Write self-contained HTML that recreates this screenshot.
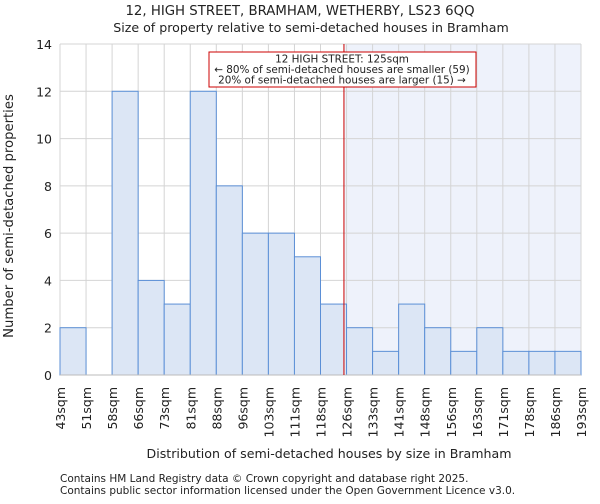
<!DOCTYPE html>
<html><head><meta charset="utf-8"><style>
body{margin:0;background:#fff;font-family:"DejaVu Sans","Liberation Sans",sans-serif;}
svg text{font-family:"DejaVu Sans","Liberation Sans",sans-serif;fill:#222;}
</style></head><body>
<svg id="c" width="600" height="500">
<text x="300" y="15" font-size="13.3" text-anchor="middle">12, HIGH STREET, BRAMHAM, WETHERBY, LS23 6QQ</text>
<text x="311" y="32" font-size="12.6" text-anchor="middle">Size of property relative to semi-detached houses in Bramham</text>
<g id="plot"></g>
<text x="329" y="458" font-size="12.6" text-anchor="middle">Distribution of semi-detached houses by size in Bramham</text>
<text transform="translate(13,216) rotate(-90)" font-size="13.2" text-anchor="middle">Number of semi-detached properties</text>
<text x="60" y="482" font-size="10.5" fill="#444">Contains HM Land Registry data © Crown copyright and database right 2025.</text>
<text x="60" y="494" font-size="10.5" fill="#444">Contains public sector information licensed under the Open Government Licence v3.0.</text>
</svg>
<script>
const binLabels=["43sqm","51sqm","58sqm","66sqm","73sqm","81sqm","88sqm","96sqm","103sqm","111sqm","118sqm","126sqm","133sqm","141sqm","148sqm","156sqm","163sqm","171sqm","178sqm","186sqm","193sqm"];
const counts=[2,0,12,4,3,12,8,6,6,5,3,2,1,3,2,1,2,1,1,1];
const yTicks=[0,2,4,6,8,10,12,14];
const markerIndex=10.9;
const NS="http://www.w3.org/2000/svg";
const L=60,R=581,T=44,B=375,yMax=14;
const bw=(R-L)/counts.length;
const xs=i=>L+i*bw;
const ys=v=>B-(v/yMax)*(B-T);
const g=document.getElementById('plot');
function mk(t,a){const e=document.createElementNS(NS,t);for(const k in a)e.setAttribute(k,a[k]);g.appendChild(e);return e;}
const mx=xs(markerIndex);
let sh=mk('rect',{x:mx,y:T,width:R-mx,height:B-T,fill:'#eef2fb'});


yTicks.forEach(v=>{
 let l=mk('line',{x1:L,x2:R,y1:ys(v),y2:ys(v),stroke:'#d4d4d4','stroke-width':1});
 
 
 let t=mk('text',{x:L-8,y:ys(v)+5,'font-size':12.5,'text-anchor':'end'});t.textContent=v;
 
 
});
binLabels.forEach((s,i)=>{
 let l=mk('line',{x1:xs(i),x2:xs(i),y1:T,y2:B,stroke:'#d4d4d4','stroke-width':1});
 
 
 let t=mk('text',{transform:`translate(${xs(i)+5},387) rotate(-90)`,'font-size':12.5,'text-anchor':'end'});t.textContent=s;
 
 
});
counts.forEach((v,i)=>{
 if(v<=0)return;
 let r=mk('rect',{x:xs(i),y:ys(v),width:bw,height:B-ys(v),fill:'#dce6f5',stroke:'#5b8fd6','stroke-width':1});
 
 
});
let ax=mk('line',{x1:L,x2:R,y1:B,y2:B,stroke:'#bbb'});


let ml=mk('line',{x1:mx,x2:mx,y1:T,y2:B,stroke:'#cc0000','stroke-width':1});


let box=mk('rect',{x:209,y:52,width:267,height:35,fill:'#fff',stroke:'#cc0000','stroke-width':1});


["12 HIGH STREET: 125sqm","← 80% of semi-detached houses are smaller (59)","20% of semi-detached houses are larger (15) →"].forEach((s,i)=>{
 let t=mk('text',{x:342,y:62.5+i*10.5,'font-size':10.4,'text-anchor':'middle'});t.textContent=s;
 
 
});
</script>
</body></html>
